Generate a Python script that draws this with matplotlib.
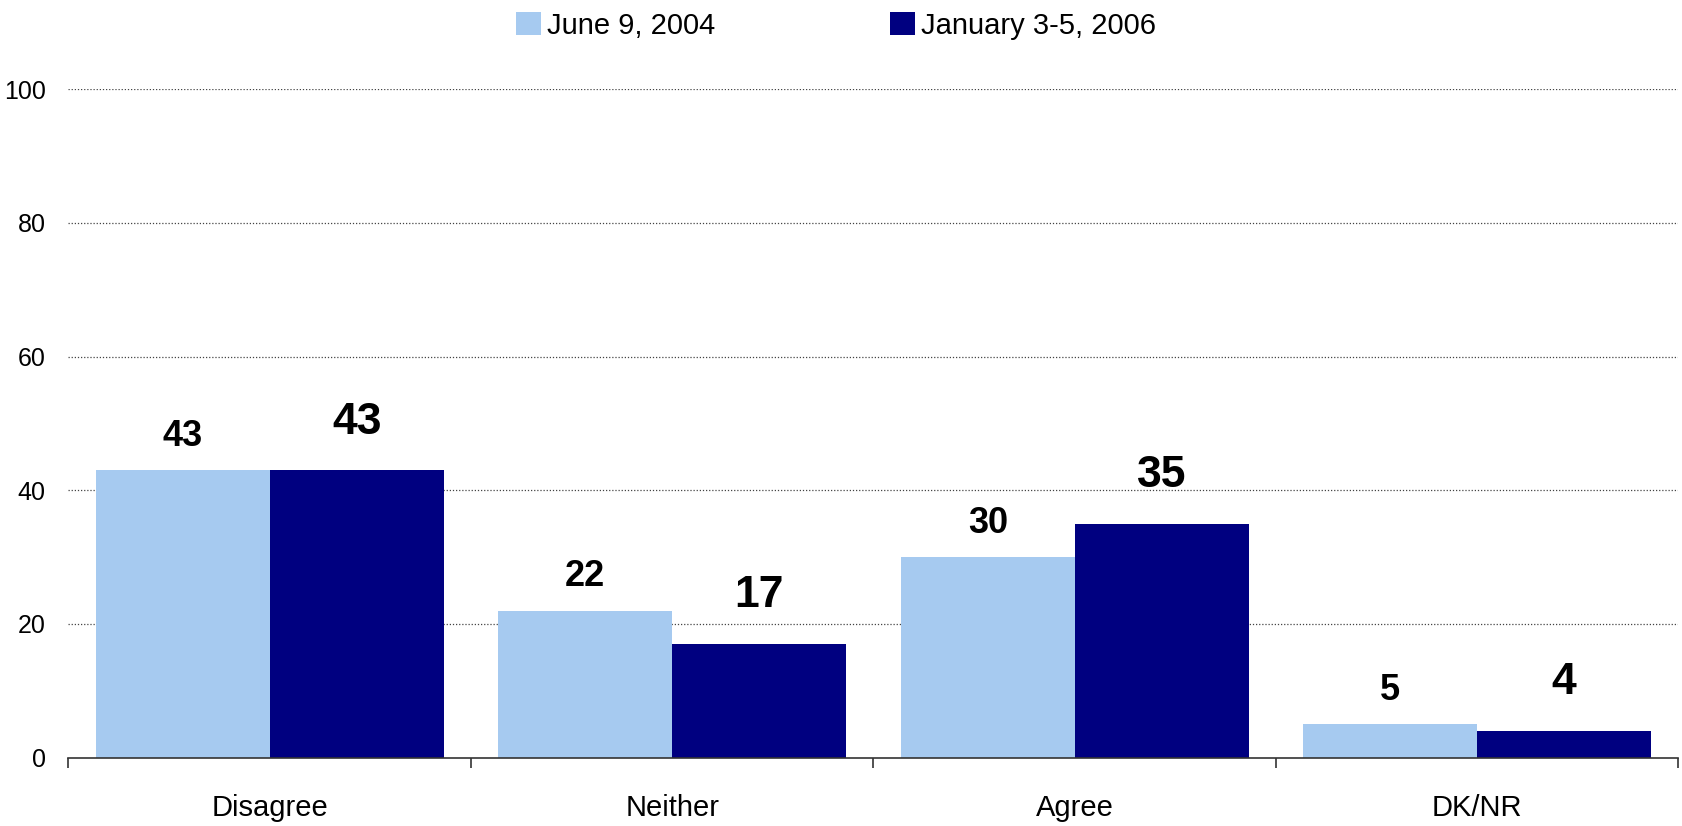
import numpy as np
import matplotlib
matplotlib.use('Agg')
import matplotlib.pyplot as plt
from matplotlib.patches import Patch

plt.rcParams['font.family'] = ['Liberation Sans', 'DejaVu Sans']

categories = ['Disagree', 'Neither', 'Agree', 'DK/NR']
june_2004 = [43, 22, 30, 5]
jan_2006 = [43, 17, 35, 4]
series_names = ['June 9, 2004', 'January 3-5, 2006']

light = '#A6CAF0'
dark = '#000080'

fig = plt.figure(figsize=(16.82, 8.26), dpi=100)
ax = fig.add_axes([0.0407, 0.0829, 0.9572, 0.809])

x = np.arange(len(categories))
w = 0.432
b1 = ax.bar(x - w / 2, june_2004, w, color=light)
b2 = ax.bar(x + w / 2, jan_2006, w, color=dark)

# value labels
for rect, v in zip(b1, june_2004):
    ax.annotate(f'{v}', (rect.get_x() + rect.get_width() / 2, v),
                xytext=(0, 17.5), textcoords='offset points',
                ha='center', va='baseline', fontsize=26, fontweight='bold')
for rect, v in zip(b2, jan_2006):
    ax.annotate(f'{v}', (rect.get_x() + rect.get_width() / 2, v),
                xytext=(0, 26.4), textcoords='offset points',
                ha='center', va='baseline', fontsize=32, fontweight='bold')

ax.set_xlim(-0.5, len(categories) - 0.5)
ax.set_ylim(0, 100)
ax.set_yticks(range(0, 101, 20))
ax.tick_params(axis='y', length=0, labelsize=18, pad=16.5)

# category ticks at boundaries, labels at centres
ax.set_xticks(np.arange(-0.5, len(categories)))
ax.set_xticklabels([])
ax.set_xticks(x, minor=True)
ax.set_xticklabels(categories, minor=True)
ax.tick_params(axis='x', which='major', length=7, width=1.2, color='#333333', direction='out')
ax.tick_params(axis='x', which='minor', length=0, labelsize=21, pad=26)

for s in ['left', 'right', 'top']:
    ax.spines[s].set_visible(False)
ax.spines['bottom'].set_color('#333333')
ax.spines['bottom'].set_linewidth(1.2)

for yv in range(20, 101, 20):
    ax.axhline(yv, color='#444444', linestyle=(0, (1, 1.5)), linewidth=0.9, zorder=0)

handles = [Patch(facecolor=light), Patch(facecolor=dark)]
fig.legend(handles, series_names, loc='center', bbox_to_anchor=(0.497, 0.969),
           ncol=2, frameon=False, fontsize=21, handlelength=0.85, handleheight=0.85,
           handletextpad=0.2, columnspacing=6.0, borderaxespad=0)

fig.savefig('out.png', dpi=100)
